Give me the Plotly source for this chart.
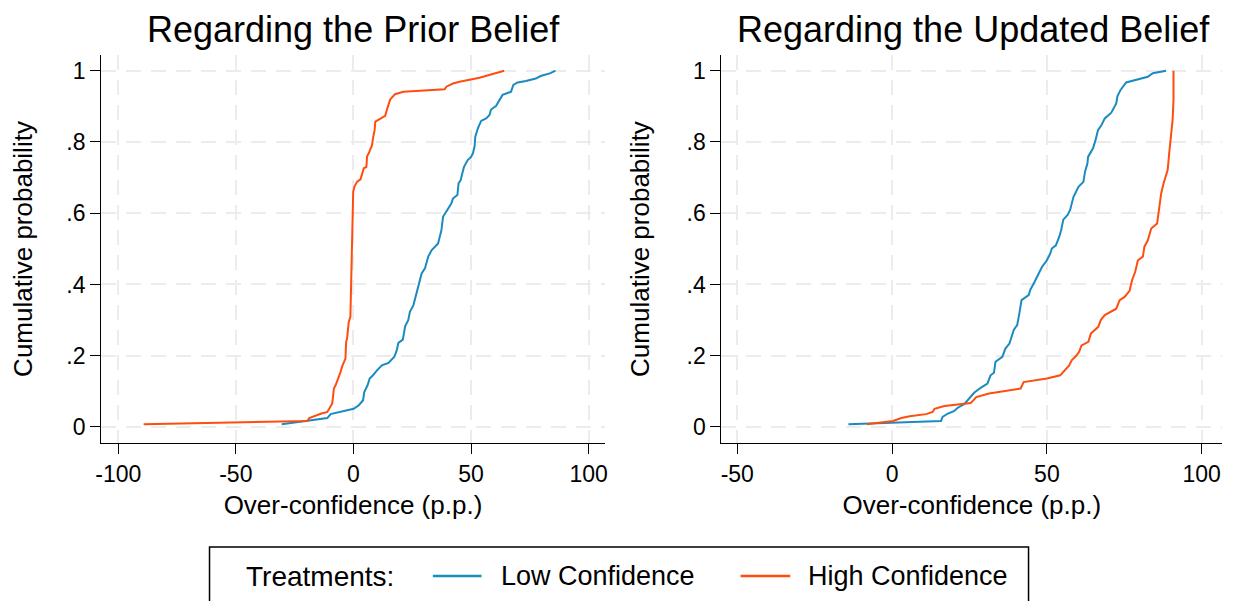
import plotly.graph_objects as go

# ---------------- data ----------------
prior_low_x = [-30.5, -19.5, -11.1, -9.7, -5.5, 0.1, 2.3, 4.1, 4.6, 6.0, 6.9, 8.3, 10.0, 12.1, 14.9,
               17.4, 18.4, 19.1, 21.0, 22.0, 23.3, 24.0, 25.5, 26.2, 27.6, 29.0, 30.4, 31.8, 33.2,
               36.0, 36.7, 37.4, 38.1, 39.5, 40.9, 41.6, 42.3, 44.2, 44.7, 45.6, 46.3, 47.0, 48.6,
               50.0, 50.8, 51.5, 51.8, 52.9, 54.3, 56.4, 57.8, 58.5, 60.6, 62.3, 63.4, 67.0, 68.0,
               69.8, 73.3, 77.5, 79.6, 83.8, 85.9]
prior_low_y = [0.0075, 0.017, 0.025, 0.036, 0.042, 0.051, 0.061, 0.075, 0.098, 0.117, 0.136, 0.145,
               0.159, 0.173, 0.180, 0.197, 0.215, 0.236, 0.245, 0.283, 0.300, 0.323, 0.342, 0.360,
               0.389, 0.431, 0.445, 0.478, 0.496, 0.515, 0.534, 0.552, 0.590, 0.604, 0.618, 0.627,
               0.641, 0.651, 0.684, 0.693, 0.712, 0.730, 0.749, 0.758, 0.768, 0.787, 0.815, 0.838,
               0.859, 0.866, 0.875, 0.891, 0.901, 0.918, 0.932, 0.941, 0.960, 0.967, 0.971, 0.978,
               0.985, 0.993, 1.0]

prior_high_x = [-89.2, -19.5, -18.8, -16.7, -13.9, -11.1, -10.4, -9.0, -8.3, -7.6, -5.5, -4.8, -3.4,
                -3.1, -2.7, -2.0, -1.3, -1.0, -0.6, -0.3, -0.1, 0.4, 1.5, 3.0, 3.7, 4.4, 5.5, 5.8,
                6.5, 7.2, 7.9, 8.3, 9.0, 9.3, 11.4, 13.5, 14.0, 14.9, 15.6, 17.7, 21.2, 38.8, 39.5,
                42.3, 45.1, 53.6, 59.2, 64.1]
prior_high_y = [0.0075, 0.017, 0.025, 0.031, 0.037, 0.042, 0.051, 0.066, 0.108, 0.117, 0.154, 0.170,
                0.192, 0.239, 0.248, 0.295, 0.309, 0.384, 0.478, 0.590, 0.660, 0.674, 0.688, 0.695,
                0.712, 0.726, 0.730, 0.760, 0.768, 0.782, 0.791, 0.810, 0.833, 0.857, 0.864, 0.873,
                0.885, 0.908, 0.919, 0.934, 0.941, 0.948, 0.955, 0.964, 0.969, 0.980, 0.990, 1.0]

upd_low_x = [-14.1, 15.8, 16.3, 17.9, 20.1, 21.2, 23.3, 24.4, 25.4, 26.5, 28.6, 30.8, 31.8, 32.9,
             33.4, 35.6, 36.6, 37.9, 39.3, 40.4, 41.1, 41.8, 44.1, 44.7, 46.0, 46.8, 48.4, 50.0,
             51.1, 51.6, 52.9, 54.0, 54.6, 55.3, 56.7, 57.5, 58.0, 58.6, 60.2, 61.8, 62.3, 63.1,
             63.3, 64.9, 65.7, 66.5, 67.6, 68.7, 70.8, 72.4, 72.8, 73.8, 75.6, 82.6, 84.2, 88.5]
upd_low_y = [0.0075, 0.017, 0.028, 0.037, 0.045, 0.054, 0.064, 0.075, 0.084, 0.096, 0.110, 0.122,
             0.145, 0.152, 0.183, 0.197, 0.220, 0.234, 0.272, 0.286, 0.318, 0.356, 0.370, 0.386,
             0.407, 0.421, 0.449, 0.468, 0.487, 0.501, 0.510, 0.534, 0.552, 0.582, 0.595, 0.609,
             0.623, 0.646, 0.674, 0.688, 0.716, 0.740, 0.758, 0.782, 0.805, 0.833, 0.847, 0.866,
             0.882, 0.908, 0.929, 0.946, 0.967, 0.983, 0.993, 1.0]

upd_high_x = [-8.2, 0.3, 3.0, 5.7, 11.0, 13.1, 13.7, 16.9, 25.4, 27.2, 31.3, 41.5, 42.5, 50.0, 54.3,
              55.9, 57.2, 58.0, 59.4, 60.4, 61.2, 63.4, 64.2, 66.6, 67.4, 68.7, 72.4, 73.5, 75.1,
              76.7, 77.5, 78.5, 79.4, 81.0, 81.5, 82.6, 83.7, 85.6, 86.3, 86.9, 87.7, 89.0, 89.5,
              90.1, 90.6, 90.9, 90.9]
upd_high_y = [0.0075, 0.017, 0.025, 0.030, 0.036, 0.042, 0.051, 0.059, 0.067, 0.084, 0.094, 0.108,
              0.126, 0.136, 0.145, 0.159, 0.173, 0.187, 0.199, 0.211, 0.229, 0.239, 0.262, 0.281,
              0.300, 0.314, 0.332, 0.356, 0.365, 0.382, 0.412, 0.435, 0.468, 0.478, 0.506, 0.524,
              0.557, 0.571, 0.613, 0.655, 0.684, 0.721, 0.768, 0.819, 0.861, 0.918, 1.0]

titles = ["Regarding the Prior Belief", "Regarding the Updated Belief"]
series_names = ["Low Confidence", "High Confidence"]
legend_title = "Treatments:"
x_title = "Over-confidence (p.p.)"
y_title = "Cumulative probability"
left_xticks = [-100, -50, 0, 50, 100]
left_xtick_labels = ["-100", "-50", "0", "50", "100"]
right_xticks = [-50, 0, 50, 100]
right_xtick_labels = ["-50", "0", "50", "100"]
yticks = [0, 0.2, 0.4, 0.6, 0.8, 1]
ytick_labels = ["0", ".2", ".4", ".6", ".8", "1"]

# ---------------- styling ----------------
W, H = 1243, 601
BLUE = "#1a8bc0"
ORANGE = "#ff4d0f"
FONT = "Liberation Sans, Arial, sans-serif"
TICK_SIZE = 23
AXTITLE_SIZE = 26

def px(x):
    return x / W

def py(y):
    return 1 - y / H

fig = go.Figure()

fig.add_trace(go.Scatter(x=prior_low_x, y=prior_low_y, mode="lines", name=series_names[0],
                         line=dict(color=BLUE, width=2), xaxis="x", yaxis="y", showlegend=False))
fig.add_trace(go.Scatter(x=prior_high_x, y=prior_high_y, mode="lines", name=series_names[1],
                         line=dict(color=ORANGE, width=2), xaxis="x", yaxis="y", showlegend=False))
fig.add_trace(go.Scatter(x=upd_low_x, y=upd_low_y, mode="lines", name=series_names[0],
                         line=dict(color=BLUE, width=2), xaxis="x2", yaxis="y2", showlegend=False))
fig.add_trace(go.Scatter(x=upd_high_x, y=upd_high_y, mode="lines", name=series_names[1],
                         line=dict(color=ORANGE, width=2), xaxis="x2", yaxis="y2", showlegend=False))

common_axis = dict(
    showline=True, linecolor="black", linewidth=1.3,
    ticks="outside", ticklen=10, tickwidth=1.3, tickcolor="black",
    showgrid=True, gridcolor="#ececec", gridwidth=1.6, griddash="15px,10px",
    zeroline=False, tickfont=dict(family=FONT, size=TICK_SIZE, color="black"),
    mirror=False,
)

ydom = [py(443), py(55)]
fig.update_layout(
    width=W, height=H,
    margin=dict(l=0, r=0, t=0, b=0),
    paper_bgcolor="white", plot_bgcolor="white",
    font=dict(family=FONT, color="black"),
    xaxis=dict(domain=[px(96), px(603)], range=[-107.2, 106.8],
               tickvals=left_xticks, ticktext=left_xtick_labels,
               title=dict(text=x_title, font=dict(size=AXTITLE_SIZE, family=FONT), standoff=10),
               anchor="y", **common_axis),
    yaxis=dict(domain=ydom, range=[-0.045, 1.044], tickvals=yticks, ticktext=ytick_labels,
               title=dict(text=y_title, font=dict(size=AXTITLE_SIZE, family=FONT), standoff=26),
               anchor="x", **common_axis),
    xaxis2=dict(domain=[px(720.7), px(1225)], range=[-55.1, 106.6],
                tickvals=right_xticks, ticktext=right_xtick_labels,
                title=dict(text=x_title, font=dict(size=AXTITLE_SIZE, family=FONT), standoff=10),
                anchor="y2", **common_axis),
    yaxis2=dict(domain=ydom, range=[-0.045, 1.044], tickvals=yticks, ticktext=ytick_labels,
                title=dict(text=y_title, font=dict(size=AXTITLE_SIZE, family=FONT), standoff=29),
                anchor="x2", **common_axis),
)

# panel titles
for t, cx in zip(titles, [350, 975]):
    fig.add_annotation(text=t, x=px(cx), y=py(30), xref="paper", yref="paper",
                       showarrow=False, xanchor="center", yanchor="middle",
                       font=dict(family=FONT, size=36, color="black"))

# legend box (drawn manually to match the reference layout)
fig.add_shape(type="rect", xref="paper", yref="paper",
              x0=px(205), x1=px(1030), y0=py(547), y1=py(620),
              line=dict(color="black", width=1.5), fillcolor="rgba(0,0,0,0)")
ly = py(576)
fig.add_annotation(text=legend_title, x=px(240), y=ly, xref="paper", yref="paper",
                   showarrow=False, xanchor="left", yanchor="middle",
                   font=dict(family=FONT, size=28, color="black"))
for name, color, x0, x1, tx in [(series_names[0], BLUE, 430, 479, 497),
                                (series_names[1], ORANGE, 740, 790, 806)]:
    fig.add_shape(type="line", xref="paper", yref="paper", x0=px(x0), x1=px(x1), y0=ly, y1=ly,
                  line=dict(color=color, width=2.5))
    fig.add_annotation(text=name, x=px(tx), y=ly, xref="paper", yref="paper",
                       showarrow=False, xanchor="left", yanchor="middle",
                       font=dict(family=FONT, size=27, color="black"))

fig.write_html("out.html", config={"displayModeBar": False},
               post_script="document.body.style.margin='0px';document.body.style.overflow='hidden';")
